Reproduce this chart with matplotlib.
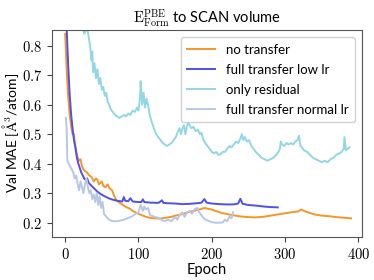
import matplotlib
matplotlib.use("Agg")
import matplotlib.pyplot as plt
from matplotlib.ticker import FuncFormatter

plt.rcParams['mathtext.fontset'] = 'cm'
plt.rcParams['font.family'] = ['Lato', 'DejaVu Sans']

# no transfer
ep_no = [0, 2, 4, 6, 8, 10, 12, 13, 15, 17, 19, 21, 23, 25, 27, 30, 33, 36, 39, 42, 44, 46, 48, 50, 52, 55, 58, 61, 64, 67,
         70, 73, 76, 80, 84, 88, 92, 96, 100, 105, 110, 115, 120, 125, 130, 135, 140, 145, 150, 155, 160, 165, 170, 175,
         180, 185, 190, 195, 200, 205, 210, 215, 220, 225, 230, 240, 250, 260, 270, 280, 290, 300, 310, 318, 322, 326,
         330, 335, 340, 350, 360, 370, 380, 390]
val_no = [0.84, 0.72, 0.63, 0.57, 0.53, 0.50, 0.50, 0.47, 0.44, 0.42, 0.41, 0.415, 0.39, 0.38, 0.375, 0.37, 0.36, 0.355,
          0.34, 0.35, 0.345, 0.33, 0.335, 0.34, 0.325, 0.32, 0.33, 0.315, 0.31, 0.29, 0.275, 0.27, 0.265, 0.258, 0.252,
          0.248, 0.24, 0.235, 0.23, 0.225, 0.22, 0.217, 0.215, 0.215, 0.214, 0.216, 0.218, 0.22, 0.224, 0.226, 0.229,
          0.233, 0.237, 0.24, 0.243, 0.246, 0.25, 0.247, 0.245, 0.24, 0.236, 0.232, 0.23, 0.227, 0.225, 0.221, 0.219,
          0.218, 0.22, 0.224, 0.228, 0.232, 0.236, 0.238, 0.245, 0.24, 0.236, 0.232, 0.228, 0.224, 0.222, 0.219, 0.217,
          0.215]

# full transfer low lr
ep_low = [2, 4, 6, 8, 10, 12, 14, 16, 18, 20, 22, 24, 26, 28, 30, 32, 34, 36, 40, 44, 48, 52, 56, 60, 65, 70, 75, 78, 80,
          82, 86, 89, 92, 96, 100, 104, 106, 108, 112, 116, 120, 124, 128, 132, 134, 140, 150, 160, 170, 180, 186, 190,
          193, 200, 210, 220, 230, 236, 239, 242, 250, 260, 270, 280, 290]
val_low = [0.86, 0.74, 0.64, 0.57, 0.52, 0.48, 0.455, 0.42, 0.40, 0.385, 0.37, 0.36, 0.35, 0.345, 0.35, 0.335, 0.33,
           0.325, 0.315, 0.305, 0.298, 0.292, 0.287, 0.282, 0.278, 0.275, 0.273, 0.272, 0.287, 0.274, 0.273, 0.283,
           0.272, 0.271, 0.27, 0.27, 0.279, 0.27, 0.269, 0.268, 0.268, 0.267, 0.268, 0.276, 0.267, 0.266, 0.265, 0.263,
           0.264, 0.266, 0.268, 0.28, 0.268, 0.265, 0.263, 0.262, 0.262, 0.265, 0.281, 0.264, 0.26, 0.258, 0.255, 0.253,
           0.252]

# only residual
ep_res = [0, 5, 10, 15, 20, 24, 26, 28, 30, 32, 34, 36, 37, 38, 40, 42, 44, 46, 48, 50, 52, 54, 56, 58, 60, 62, 65, 68,
          71, 74, 77, 80, 83, 86, 89, 92, 95, 98, 100, 102, 103, 105, 107, 109, 111, 113, 115, 117, 119, 121, 124, 127,
          130, 133, 136, 139, 142, 145, 148, 151, 154, 156, 158, 160, 162, 164, 166, 168, 170, 172, 175, 178, 181, 184,
          186, 188, 191, 194, 197, 200, 203, 206, 209, 212, 215, 218, 221, 224, 227, 230, 233, 236, 239, 241, 243, 245,
          248, 251, 254, 257, 260, 264, 268, 272, 276, 280, 284, 288, 291, 293, 294, 296, 299, 302, 305, 308, 311, 314,
          317, 319, 321, 323, 326, 330, 334, 338, 342, 346, 350, 354, 358, 362, 366, 370, 374, 377, 380, 381, 383, 385,
          388]
val_res = [1.2, 1.05, 0.98, 0.92, 0.88, 0.86, 0.84, 0.85, 0.86, 0.83, 0.80, 0.75, 0.78, 0.71, 0.74, 0.69, 0.72, 0.67,
           0.69, 0.65, 0.66, 0.63, 0.64, 0.61, 0.60, 0.585, 0.575, 0.565, 0.56, 0.555, 0.56, 0.565, 0.56, 0.57, 0.565,
           0.58, 0.575, 0.59, 0.58, 0.62, 0.68, 0.60, 0.64, 0.59, 0.62, 0.60, 0.57, 0.55, 0.535, 0.52, 0.50, 0.49, 0.48,
           0.47, 0.465, 0.46, 0.465, 0.47, 0.48, 0.49, 0.51, 0.52, 0.50, 0.52, 0.53, 0.50, 0.525, 0.54, 0.53, 0.52,
           0.525, 0.51, 0.515, 0.50, 0.505, 0.485, 0.47, 0.46, 0.45, 0.44, 0.435, 0.44, 0.43, 0.432, 0.44, 0.44, 0.45,
           0.46, 0.455, 0.465, 0.475, 0.47, 0.485, 0.50, 0.48, 0.49, 0.475, 0.48, 0.46, 0.45, 0.44, 0.43, 0.42, 0.415,
           0.41, 0.415, 0.42, 0.43, 0.44, 0.45, 0.475, 0.465, 0.46, 0.47, 0.465, 0.47, 0.465, 0.475, 0.48, 0.495, 0.46,
           0.455, 0.445, 0.44, 0.43, 0.42, 0.415, 0.41, 0.405, 0.41, 0.405, 0.415, 0.42, 0.43, 0.435, 0.44, 0.45, 0.49,
           0.445, 0.45, 0.455]

# full transfer normal lr
ep_norm = [1, 2, 3, 5, 7, 9, 11, 13, 15, 17, 19, 21, 23, 25, 27, 29, 31, 33, 35, 37, 39, 41, 43, 45, 47, 49, 51, 53, 56,
           60, 65, 70, 75, 80, 85, 90, 95, 100, 103, 106, 108, 110, 113, 116, 120, 125, 130, 135, 140, 145, 150, 153,
           156, 160, 163, 166, 170, 173, 176, 180, 183, 186, 190, 195, 200, 205, 210, 215, 218, 221, 224, 227, 229]
val_norm = [0.555, 0.52, 0.41, 0.40, 0.39, 0.38, 0.37, 0.35, 0.36, 0.33, 0.31, 0.34, 0.32, 0.30, 0.33, 0.35, 0.32, 0.30,
            0.31, 0.28, 0.295, 0.27, 0.30, 0.26, 0.29, 0.25, 0.27, 0.23, 0.22, 0.21, 0.205, 0.205, 0.207, 0.21, 0.215,
            0.22, 0.228, 0.235, 0.26, 0.24, 0.255, 0.245, 0.25, 0.225, 0.222, 0.218, 0.212, 0.205, 0.21, 0.205, 0.22,
            0.21, 0.225, 0.235, 0.22, 0.235, 0.24, 0.23, 0.245, 0.25, 0.235, 0.225, 0.212, 0.207, 0.202, 0.2, 0.2,
            0.201, 0.21, 0.205, 0.22, 0.215, 0.235]

fig = plt.figure(figsize=(3.74, 2.8), dpi=100)
ax = fig.add_axes([0.139, 0.154, 0.829, 0.739])

ax.plot(ep_no, val_no, color='#f5962a', lw=1.4, label='no transfer')
ax.plot(ep_low, val_low, color='#5050ec', lw=1.4, label='full transfer low lr')
ax.plot(ep_res, val_res, color='#93d7e2', lw=1.4, label='only residual')
ax.plot(ep_norm, val_norm, color='#b9c7e5', lw=1.4, label='full transfer normal lr')

ax.set_xlim(-18, 405)
ax.set_ylim(0.152, 0.853)
ax.set_xticks([0, 100, 200, 300, 400])
ax.set_yticks([0.2, 0.3, 0.4, 0.5, 0.6, 0.7, 0.8])
ax.xaxis.set_major_formatter(FuncFormatter(lambda v, p: f"${v:g}$"))
ax.yaxis.set_major_formatter(FuncFormatter(lambda v, p: f"${v:.1f}$"))
ax.tick_params(labelsize=10.5, length=3.5, color='#444444')
for s in ax.spines.values():
    s.set_color('#555555')

ax.set_xlabel('Epoch', fontsize=10.5, labelpad=1)
ax.set_ylabel(r'Val MAE [$\mathrm{\AA}^3$/atom]', fontsize=10, labelpad=1)
ax.set_title(r'$\mathrm{E}^{\mathrm{PBE}}_{\mathrm{Form}}$ to SCAN volume', fontsize=10.5, pad=5)
ax.legend(loc='upper right', fontsize=9.5, framealpha=0.9, handlelength=2.1, handletextpad=0.8,
          borderpad=0.5, labelspacing=0.6, borderaxespad=0.55)

fig.savefig('out.png', dpi=100)
